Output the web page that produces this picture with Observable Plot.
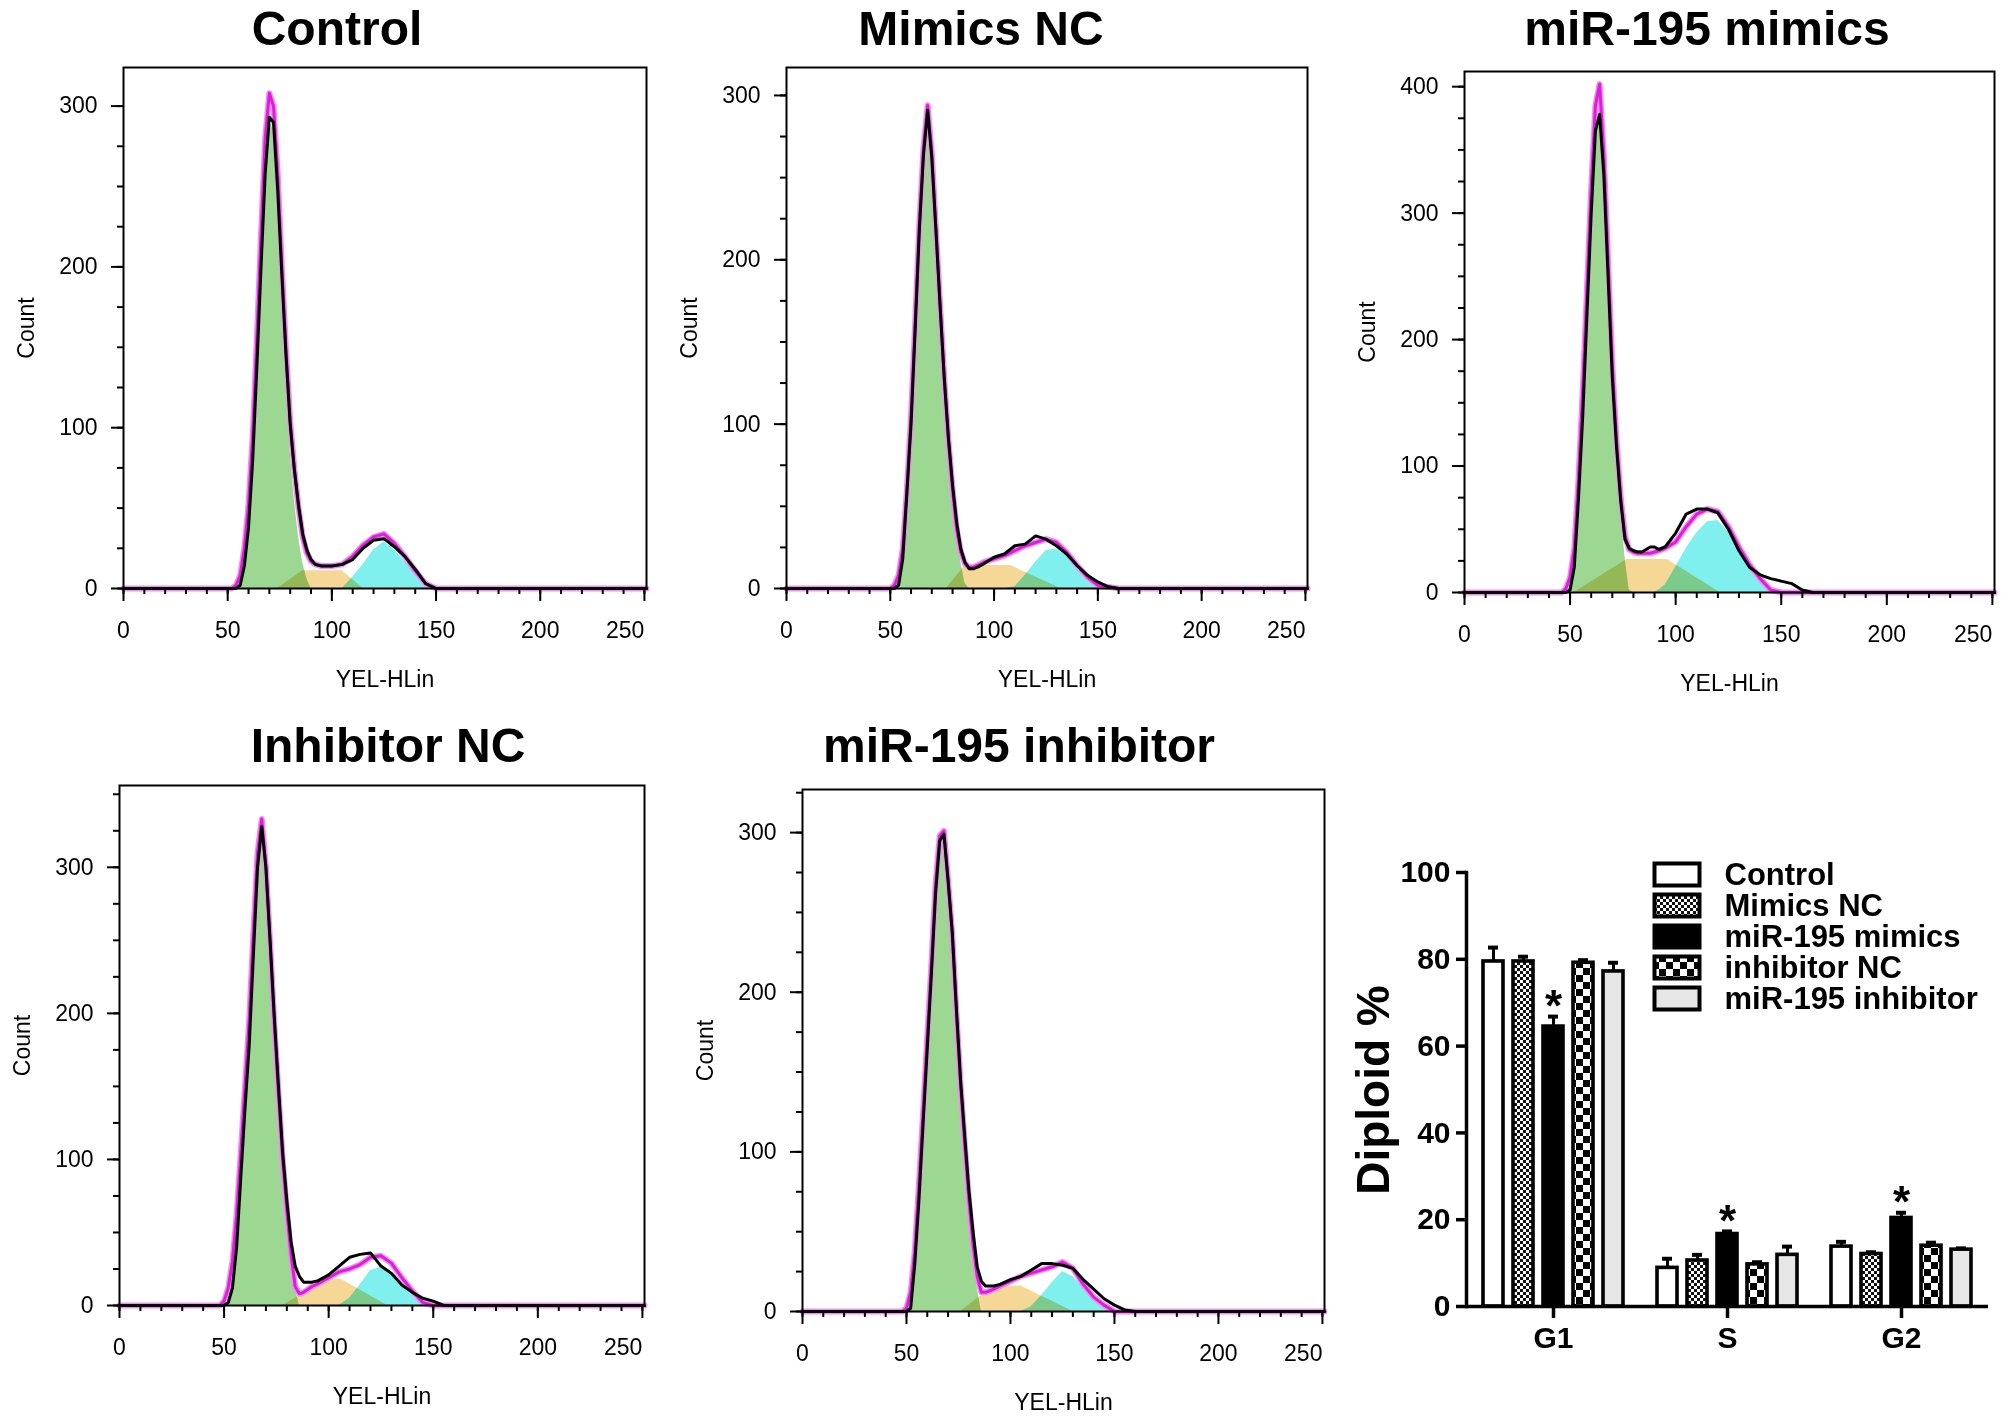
<!DOCTYPE html>
<html>
<head>
<meta charset="utf-8">
<title>miR-195 cell cycle</title>
<script src="https://cdn.jsdelivr.net/npm/d3@7"></script>
<script src="https://cdn.jsdelivr.net/npm/@observablehq/plot@0.6"></script>
<style>
  html, body { margin: 0; padding: 0; background: #fff; }
  #page { position: relative; width: 2008px; height: 1423px; overflow: hidden; background: #fff; font-family: "Liberation Sans", Arial, sans-serif; }
  #page svg { position: absolute; }
  .title { position: absolute; transform: translate(-50%, -50%); font-weight: bold; font-size: 48px; line-height: 1; white-space: nowrap; color: #000; }
  .ylab { position: absolute; transform: translate(-50%, -50%) rotate(-90deg); font-weight: bold; font-size: 46px; line-height: 1; white-space: nowrap; color: #000; }
</style>
</head>
<body>
<svg width="0" height="0" style="position:absolute">
  <defs>
    <pattern id="fineCheck" width="6" height="6" patternUnits="userSpaceOnUse">
      <rect width="6" height="6" fill="#fff"/>
      <rect width="3" height="3" fill="#111"/>
      <rect x="3" y="3" width="3" height="3" fill="#111"/>
    </pattern>
    <pattern id="bigCheck" width="14" height="14" patternUnits="userSpaceOnUse">
      <rect width="14" height="14" fill="#fff"/>
      <rect width="7" height="7" fill="#000"/>
      <rect x="7" y="7" width="7" height="7" fill="#000"/>
    </pattern>
  </defs>
</svg>
<div id="page"></div>
<script>
const binX = [0, 46, 48, 50, 52, 54, 56, 58, 60, 62,
  64, 66, 68, 70, 72, 74, 76, 78, 80, 82,
  84, 86, 88, 90, 92, 95, 100, 105, 110, 115,
  120, 125, 130, 135, 140, 145, 150, 155, 160, 165,
  170, 251];

// Control
const ctrlRaw = [0,0,0,0,0,0,2,14,38,80, 138,200,258,293,290,248,195,145,102,74, 52,34,24,18,15,14,14,15,18,25, 30,31,26,20,12,3,0,0,0,0, 0,0];
const ctrlFit = [0,0,0,0,0,2,8,25,52,95, 155,220,280,308,300,258,200,148,104,74, 50,32,22,17,15,14,14,15,20,27, 32,34,28,20,11,3,0,0,0,0, 0,0];
const ctrlG1  = [0,0,0,0,0,0,0,10,32,72, 130,192,250,290,285,240,185,130,85,55, 32,16,6,0,0,0,0,0,0,0, 0,0,0,0,0,0,0,0,0,0, 0,0];
const ctrlG2  = [0,0,0,0,0,0,0,0,0,0, 0,0,0,0,0,0,0,0,0,0, 0,0,0,0,0,0,0,0,7,15, 24,29,24,17,9,1,0,0,0,0, 0,0];
const ctrlS   = [[74, 0], [86, 11], [105, 11], [115, 0]];

// Mimics NC
const mncRaw = [0,0,0,0,0,2,18,58,100,158, 218,264,291,262,218,172,128,92,63,40, 24,16,12,12,13,15,19,21,26,27, 32,30,26,21,14,8,4,1,0,0, 0,0];
const mncFit = [0,0,0,0,2,8,24,60,105,162, 222,268,294,265,218,172,128,90,60,36, 22,15,13,13,14,16,18,20,23,26, 28,30,28,22,14,7,2,1,0,0, 0,0];
const mncG1  = [0,0,0,0,0,0,15,55,97,155, 215,260,290,260,215,168,124,88,58,33, 16,3,0,0,0,0,0,0,0,0, 0,0,0,0,0,0,0,0,0,0, 0,0];
const mncG2  = [0,0,0,0,0,0,0,0,0,0, 0,0,0,0,0,0,0,0,0,0, 0,0,0,0,0,0,0,0,1,8, 16,23,24,20,12,6,1,0,0,0, 0,0];
const mncS   = [[77, 0], [86, 14], [108, 14], [132, 0]];

// miR-195 mimics
const mimRaw = [0,0,0,2,20,75,140,220,300,365, 378,330,250,170,115,72,42,35,33,32, 32,34,36,36,34,36,47,62,66,66, 63,50,33,20,14,11,9,7,2,0, 0,0];
const mimFit = [0,0,3,12,35,90,160,240,320,385, 402,345,262,180,120,75,45,34,32,31, 31,31,31,32,33,35,40,52,62,66, 64,52,36,22,11,2,0,0,0,0, 0,0];
const mimG1  = [0,0,0,2,20,72,138,218,298,362, 378,330,248,168,110,65,28,2,0,0, 0,0,0,0,0,0,0,0,0,0, 0,0,0,0,0,0,0,0,0,0, 0,0];
const mimG2  = [0,0,0,0,0,0,0,0,0,0, 0,0,0,0,0,0,0,0,0,0, 0,0,0,0,2,6,20,35,47,56, 57,48,34,21,10,2,0,0,0,0, 0,0];
const mimS   = [[52, 0], [77, 26], [96, 26], [121, 0]];

// Inhibitor NC
const incRaw = [0,0,0,0,2,12,40,88,135,178, 240,300,328,300,250,198,150,105,72,44, 27,20,16,16,16,17,21,27,33,35, 36,27,22,14,9,5,3,0,0,0, 0,0];
const incFit = [0,0,0,3,12,30,62,105,150,195, 255,310,333,300,248,193,145,100,65,35, 13,8,9,11,13,15,19,23,25,28, 33,34,29,19,10,2,0,0,0,0, 0,0];
const incG1  = [0,0,0,0,3,15,45,92,140,180, 245,300,325,295,245,190,145,100,65,38, 12,0,0,0,0,0,0,0,0,0, 0,0,0,0,0,0,0,0,0,0, 0,0];
const incG2  = [0,0,0,0,0,0,0,0,0,0, 0,0,0,0,0,0,0,0,0,0, 0,0,0,0,0,0,0,0,5,14, 24,26,22,15,7,0,0,0,0,0, 0,0];
const incS   = [[78, 0], [100, 18], [106, 18], [128, 0]];

// miR-195 inhibitor
const inhRaw = [0,0,0,0,2,30,70,118,165,212, 262,295,299,270,238,190,145,110,76,50, 28,19,16,16,16,17,20,22,26,30, 30,29,27,20,14,8,4,1,0,0, 0,0];
const inhFit = [0,0,0,2,12,38,80,125,172,218, 268,298,301,270,236,187,142,105,70,42, 22,12,12,13,14,16,19,22,24,26, 28,31,27,17,9,4,0,0,0,0, 0,0];
const inhG1  = [0,0,0,0,3,30,72,118,165,210, 262,295,296,268,235,185,140,105,72,45, 15,0,0,0,0,0,0,0,0,0, 0,0,0,0,0,0,0,0,0,0, 0,0];
const inhG2  = [0,0,0,0,0,0,0,0,0,0, 0,0,0,0,0,0,0,0,0,0, 0,0,0,0,0,0,0,0,3,10, 18,25,22,15,8,3,0,0,0,0, 0,0];
const inhS   = [[76, 0], [92, 16], [105, 16], [130, 0]];

const xMajor = [0, 50, 100, 150, 200];
const xLast = [250];

// bar chart: Diploid % by phase
const phases = ["G1", "S", "G2"];
const treatments = ["Control", "Mimics NC", "miR-195 mimics", "inhibitor NC", "miR-195 inhibitor"];
const diploidG1 = [79.5, 79.5, 64.5, 79.2, 77.2];
const diploidS  = [8.9, 10.6, 16.7, 9.7, 11.9];
const diploidG2 = [13.8, 12.1, 20.4, 14.0, 13.1];
const errG1 = [3.2, 1.1, 2.3, 0.6, 2.0];
const errS  = [2.1, 1.3, 0.6, 0.5, 1.9];
const errG2 = [1.1, 0.4, 1.2, 0.7, 0.3];
const starred = "miR-195 mimics";

const FONT = "'Liberation Sans', Arial, Helvetica, sans-serif";
const swatchFill = {
  "Control": "#ffffff",
  "Mimics NC": "url(#fineCheck)",
  "miR-195 mimics": "#000000",
  "inhibitor NC": "url(#bigCheck)",
  "miR-195 inhibitor": "#e6e6e6"
};

const page = document.getElementById("page");

const panels = [
  {title: "Control", raw: ctrlRaw, fit: ctrlFit, g1: ctrlG1, g2: ctrlG2, s: ctrlS, ymax: 324, frame: [123, 646, 67, 588], titleAt: [337, 29]},
  {title: "Mimics NC", raw: mncRaw, fit: mncFit, g1: mncG1, g2: mncG2, s: mncS, ymax: 317, frame: [786, 1307, 67, 588], titleAt: [981, 29]},
  {title: "miR-195 mimics", raw: mimRaw, fit: mimFit, g1: mimG1, g2: mimG2, s: mimS, ymax: 412, frame: [1464, 1994, 71, 592], titleAt: [1707, 29]},
  {title: "Inhibitor NC", raw: incRaw, fit: incFit, g1: incG1, g2: incG2, s: incS, ymax: 356, frame: [119, 644, 785, 1305], titleAt: [388, 746]},
  {title: "miR-195 inhibitor", raw: inhRaw, fit: inhFit, g1: inhG1, g2: inhG2, s: inhS, ymax: 327, frame: [802, 1324, 789, 1311], titleAt: [1019, 746]}
];

const ML = 110, MR = 14, MT = 10, MB = 112;

function addTitle(text, [x, y]) {
  const t = document.createElement("div");
  t.className = "title";
  t.textContent = text;
  t.style.left = x + "px";
  t.style.top = y + "px";
  page.appendChild(t);
}

function histogram(p) {
  const rows = binX.map((x, i) => ({x, raw: p.raw[i], fit: p.fit[i], g1: p.g1[i], g2: p.g2[i]}));
  const sRows = p.s.map(([x, y]) => ({x, y}));
  const fw = p.frame[1] - p.frame[0];
  const fh = p.frame[3] - p.frame[2];
  const yMajor = d3.range(0, p.ymax + 1, 100);
  const yMinor = d3.range(0, p.ymax + 1, 25);
  const xMinor = d3.range(0, 251, 10);

  const chart = Plot.plot({
    width: ML + fw + MR,
    height: MT + fh + MB,
    marginLeft: ML, marginRight: MR, marginTop: MT, marginBottom: MB,
    style: {fontFamily: FONT, fontSize: "23px", color: "#000", background: "transparent", overflow: "visible"},
    x: {domain: [0, 251], label: null},
    y: {domain: [0, p.ymax], label: null},
    marks: [
      Plot.areaY(rows, {x: "x", y: "g1", fill: "#9cd892"}),
      Plot.areaY(sRows, {x: "x", y: "y", fill: "#f6d896", mixBlendMode: "multiply"}),
      Plot.areaY(rows, {x: "x", y: "g2", fill: "#80f0ee", mixBlendMode: "multiply"}),
      Plot.line(rows, {x: "x", y: "fit", stroke: "#f090ee", strokeWidth: 6}),
      Plot.line(rows, {x: "x", y: "fit", stroke: "#dc1ed8", strokeWidth: 3}),
      Plot.line(rows, {x: "x", y: "raw", stroke: "#000", strokeWidth: 3}),
      Plot.frame({stroke: "#000", strokeWidth: 2}),
      Plot.axisY({ticks: yMinor, tickSize: 6, strokeWidth: 2, tickFormat: () => "", label: null}),
      Plot.axisY({ticks: yMajor, tickSize: 12, tickPadding: 14, strokeWidth: 2, label: "Count", labelAnchor: "center", labelOffset: 106, labelArrow: "none"}),
      Plot.axisX({ticks: xMinor, tickSize: 6, strokeWidth: 2, tickFormat: () => "", label: null}),
      Plot.axisX({ticks: xMajor, tickSize: 13, tickPadding: 20, strokeWidth: 2, label: "YEL-HLin", labelAnchor: "center", labelOffset: 98, labelArrow: "none"}),
      Plot.axisX({ticks: xLast, tickSize: 13, tickPadding: 20, strokeWidth: 2, textAnchor: "end", label: null})
    ]
  });
  chart.style.left = (p.frame[0] - ML) + "px";
  chart.style.top = (p.frame[2] - MT) + "px";
  page.appendChild(chart);
  addTitle(p.title, p.titleAt);
}

panels.forEach(histogram);

// grouped bar chart
const values = [diploidG1, diploidS, diploidG2];
const errs = [errG1, errS, errG2];
const barRows = phases.flatMap((phase, pi) => treatments.map((treatment, ti) => ({
  phase, treatment, value: values[pi][ti], err: errs[pi][ti]
})));

const bars = Plot.plot({
  width: 678, height: 621,
  marginLeft: 135, marginRight: 19, marginTop: 72, marginBottom: 115,
  style: {fontFamily: FONT, color: "#000", background: "transparent", overflow: "visible"},
  fx: {domain: phases, padding: 0, label: null},
  x: {domain: treatments, paddingInner: 0.33, paddingOuter: 0.53, axis: null},
  y: {domain: [0, 100], label: null},
  color: {type: "identity"},
  marks: [
    Plot.ruleX(barRows, {fx: "phase", x: "treatment", y1: "value", y2: d => d.value + d.err, stroke: "#000", strokeWidth: 3}),
    Plot.tickY(barRows, {fx: "phase", x: "treatment", y: d => d.value + d.err, stroke: "#000", strokeWidth: 4, insetLeft: 5, insetRight: 5}),
    Plot.barY(barRows, {fx: "phase", x: "treatment", y: "value", fill: d => swatchFill[d.treatment], stroke: "#000", strokeWidth: 3.6}),
    Plot.text(barRows.filter(d => d.treatment === starred), {
      fx: "phase", x: "treatment", y: d => d.value + d.err, text: () => "*",
      dy: -10, fontSize: 44, fontWeight: "bold"
    }),
    Plot.ruleY([0], {stroke: "#000", strokeWidth: 3.5}),
    Plot.frame({anchor: "left", facetAnchor: "left", stroke: "#000", strokeWidth: 3.5}),
    Plot.axisY({ticks: [0, 20, 40, 60, 80, 100], tickSize: 10, tickPadding: 6, strokeWidth: 3.5,
      fontSize: 30, fontWeight: "bold", label: null}),
    Plot.axisFx({anchor: "bottom", tickSize: 12, tickPadding: 8, strokeWidth: 3.5,
      fontSize: 30, fontWeight: "bold", label: null})
  ]
});
bars.style.left = "1330px";
bars.style.top = "800px";
page.appendChild(bars);

const ylab = document.createElement("div");
ylab.className = "ylab";
ylab.textContent = "Diploid %";
ylab.style.left = "1373px";
ylab.style.top = "1090px";
page.appendChild(ylab);

// legend
const legend = Plot.plot({
  width: 356, height: 158,
  marginLeft: 8, marginRight: 300, marginTop: 0, marginBottom: 0,
  style: {fontFamily: FONT, color: "#000", background: "transparent", overflow: "visible"},
  x: {domain: ["box"], axis: null, padding: 0},
  y: {domain: treatments, axis: null, paddingInner: 0.2, paddingOuter: 0.1},
  color: {type: "identity"},
  marks: [
    Plot.cell(treatments, {x: () => "box", y: d => d, fill: d => swatchFill[d], stroke: "#000", strokeWidth: 4, inset: 1.5}),
    Plot.text(treatments, {y: d => d, frameAnchor: "left", dx: 71, text: d => d, textAnchor: "start", fontSize: 31, fontWeight: "bold"})
  ]
});
legend.style.left = "1645px";
legend.style.top = "857px";
page.appendChild(legend);
</script>
</body>
</html>
